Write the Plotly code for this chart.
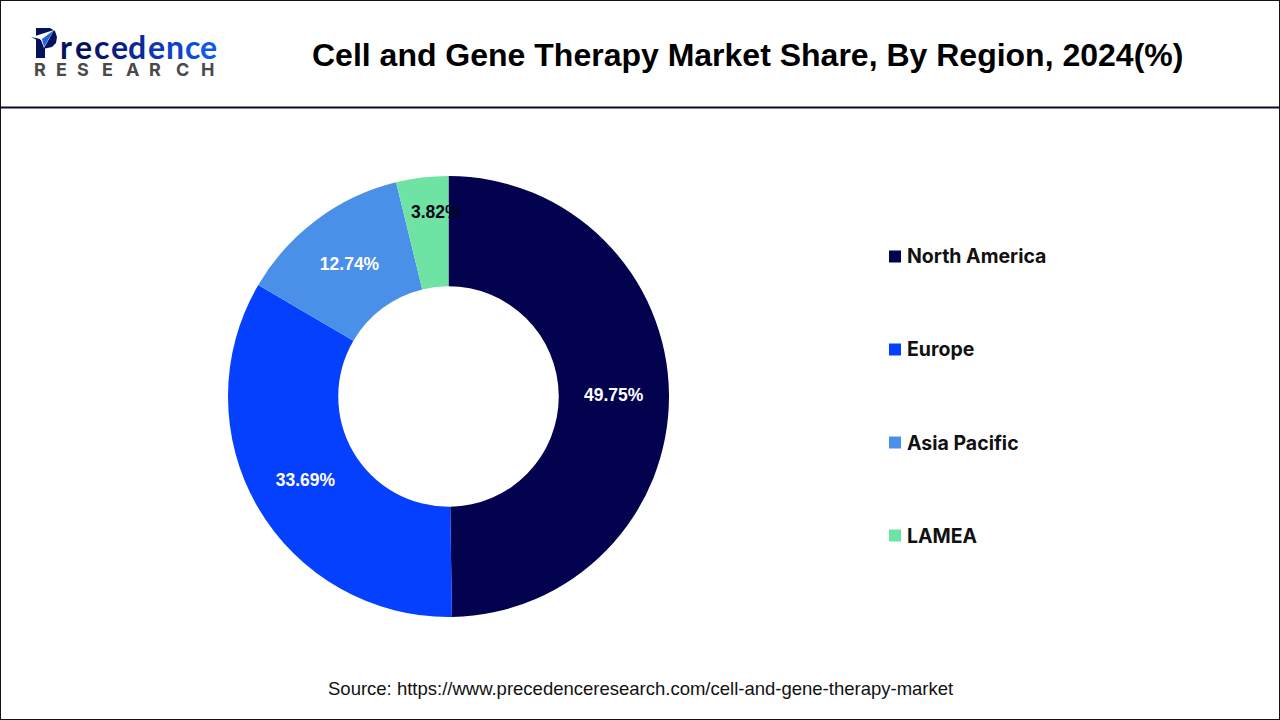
import plotly.graph_objects as go

W, H = 1280, 720
regions = ["North America", "Europe", "Asia Pacific", "LAMEA"]
shares = [49.75, 33.69, 12.74, 3.82]
colors = ["#02024f", "#0540ff", "#4a90e8", "#6fe3a3"]
title = "Cell and Gene Therapy Market Share, By Region, 2024(%)"
source = "Source: https://www.precedenceresearch.com/cell-and-gene-therapy-market"
logo_letters = list("recedence")
logo_colors = ["#06105c", "#06105c", "#07176e", "#081e82", "#0a2a9c", "#0b36b4", "#0c42c8", "#0c4ed8", "#0d5ae6"]
logo_word2 = list("RESEARCH")
logo_word2_x = [40, 61, 83, 107, 132, 155, 182, 207]

def X(x): return x / W
def Y(y): return 1 - y / H
def path(pts):
    return "M " + " L ".join(f"{X(a):.5f} {Y(b):.5f}" for a, b in pts) + " Z"
def note(text, x, y, family, size, color, xanchor="center"):
    return dict(text=text, x=X(x), y=Y(y), xanchor=xanchor, yanchor="middle", showarrow=False,
                font=dict(family=family, size=size, color=color))

fig = go.Figure(go.Pie(
    labels=regions, values=shares, sort=False, direction="clockwise", rotation=0,
    hole=0.5, marker=dict(colors=colors, line=dict(width=0)),
    text=[f"<b>{v:.2f}%</b>" for v in shares[:3]] + [""],
    textinfo="text", textposition="inside", insidetextorientation="horizontal",
    insidetextfont=dict(family="Liberation Sans", size=17.5, color="white"),
    domain=dict(x=[X(228), X(669)], y=[Y(617), Y(176)]),
    showlegend=False, hoverinfo="label+percent",
))

shapes = [
    dict(type="rect", xref="paper", yref="paper", x0=0, x1=1, y0=0, y1=1,
         line=dict(color="#111111", width=2), layer="above"),
    dict(type="line", xref="paper", yref="paper", x0=0, x1=1, y0=Y(107.5), y1=Y(107.5),
         line=dict(color="#0a0a2a", width=2)),
    dict(type="path", xref="paper", yref="paper", line=dict(width=0), fillcolor="#06105c",
         path=path([(36, 28), (50, 28), (55, 31), (57, 37), (56, 43), (52, 47), (45, 48.5), (45, 58), (36, 58)])),
    dict(type="path", xref="paper", yref="paper", line=dict(width=0), fillcolor="#ffffff",
         path=path([(32, 37), (54, 30), (44, 48), (41, 40)])),
    dict(type="path", xref="paper", yref="paper", line=dict(width=0), fillcolor="#06105c",
         path=path([(31, 37), (40, 39), (42, 48), (39, 41)])),
    dict(type="path", xref="paper", yref="paper", line=dict(width=0), fillcolor="#1f63e0",
         path=path([(54, 30), (44, 47), (42, 39)])),
]

annotations = [
    note(f"<b>{title}</b>", 747.5, 55, "Liberation Sans", 32, "#000000"),
    note(source, 640, 688.5, "Liberation Sans", 18.5, "#111111"),
    note(f"<b>{shares[3]:.2f}%</b>", 436, 212, "Liberation Sans", 17.5, "#06061a"),
]

for ch, c, lx in zip(logo_letters, logo_colors, [66, 83, 101, 119, 137, 156, 175, 192, 208]):
    annotations.append(note(f"<b>{ch}</b>", lx, 47, "Lato", 32, c))
for ch, lx in zip(logo_word2, logo_word2_x):
    annotations.append(note(f"<b>{ch}</b>", lx, 69.5, "Inter", 18, "#4a4a4a"))

legend_y = [256.5, 349.5, 442.5, 535.5]
for name, c, ly in zip(regions, colors, legend_y):
    shapes.append(dict(type="rect", xref="paper", yref="paper", x0=X(889), x1=X(901),
                       y0=Y(ly + 6), y1=Y(ly - 6), line=dict(width=0), fillcolor=c))
    annotations.append(note(f"<b>{name}</b>", 905, ly, "Inter", 19.5, "#111111", "left"))

fig.update_layout(
    width=W, height=H, margin=dict(l=0, r=0, t=0, b=0, autoexpand=False),
    paper_bgcolor="white", plot_bgcolor="white",
    shapes=shapes, annotations=annotations,
    uniformtext=dict(mode="show", minsize=16),
)
fig.write_html("out.html", config=dict(displayModeBar=False, responsive=False),
               post_script="document.body.style.margin='0';document.documentElement.style.overflow='hidden';")
